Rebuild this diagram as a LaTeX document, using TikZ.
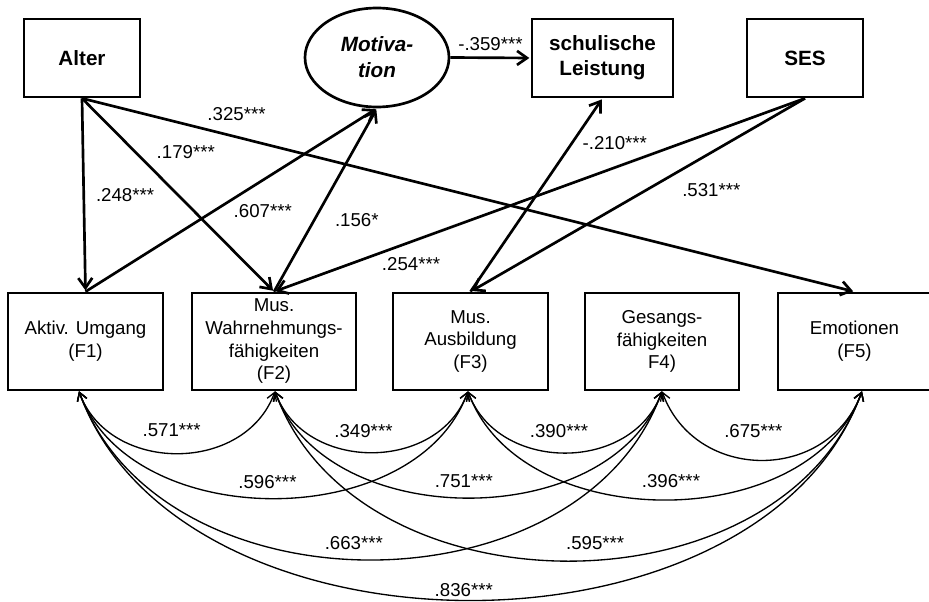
\documentclass[tikz,border=0pt]{standalone}
\usepackage{fontspec}
\setmainfont{Liberation Sans}
\usetikzlibrary{shapes.geometric,arrows.meta}

\begin{document}
\begin{tikzpicture}[x=0.75pt, y=-0.75pt, line width=2pt, >={Straight Barb[length=7.5pt,width=10.5pt]}]
    \tikzstyle{box}=[draw, rectangle, inner sep=0pt, align=center, font=\fontsize{14}{17}\selectfont]
    \tikzstyle{head}=[box, minimum height=58.5pt, font=\bfseries\fontsize{15.5}{18.75}\selectfont]
    \tikzstyle{factor}=[box, minimum height=72.75pt]
    \tikzstyle{latent}=[draw, ellipse, inner sep=0pt, minimum width=108pt, minimum height=74.25pt, align=center, font=\bfseries\itshape\fontsize{15.5}{19.5}\selectfont]
    \tikzstyle{effect}=[->, shorten >=1pt]
    \tikzstyle{corr}=[<->, line width=1pt, >={Straight Barb[length=6pt,width=7.5pt]}]
    \tikzstyle{coef}=[inner sep=1pt, font=\fontsize{14}{17}\selectfont]

    \useasboundingbox (0,0) rectangle (929,602);

    \node[head, minimum width=87pt] (alter) at (82,58) {Alter};
    \node[latent] (motiv) at (377,57.5) {Motiva-\\tion};
    \node[head, minimum width=105.75pt] (schul) at (602.5,58) {schulische\\Leistung};
    \node[head, minimum width=87pt] (ses) at (805,58) {SES};

    \foreach \name/\x/\w/\txt in {1/85.5/116.25/{Aktiv. Umgang\\(F1)},
                                 2/274/123/{Mus.\\Wahrnehmungs-\\fähigkeiten\\(F2)},
                                 3/470.5/116.25/{Mus.\\Ausbildung\\(F3)},
                                 4/662/115.5/{Gesangs-\\fähigkeiten\\F4)},
                                 5/854.5/114.75/{Emotionen\\(F5)}}
        \node[factor, minimum width=\w pt] (F-\name) at (\x,341.5) {\txt};

    \foreach \name/\off in {1/-4.9, 2/0.75, 3/-1.9, 4/0, 5/5.6}
        \coordinate (b-\name) at ([xshift=\off pt]F-\name.south);

    \draw[effect] (alter.south) -- node[coef, pos=.5, xshift=31pt] {.248***} (F-1.north);
    \draw[effect] (alter.south) -- node[coef, pos=.28, xshift=37.5pt] {.179***} (F-2.north);
    \draw[effect] (alter.south) -- node[coef, pos=.2, yshift=17pt] {.325***} (F-5.north);
    \draw[effect] (F-1.north) -- node[coef, pos=.44, xshift=36.75pt] {.607***} (motiv.south);
    \draw[effect] (F-2.north) -- node[coef, pos=.39, xshift=32pt] {.156*} (motiv.south);
    \draw[effect] (ses.south) -- node[coef, pos=.742, yshift=-17pt] {.254***} (F-2.north);
    \draw[effect] (ses.south) -- node[coef, pos=.28, yshift=-28pt] {.531***} (F-3.north);
    \draw[effect] (F-3.north) -- node[coef, pos=.77, xshift=32pt] {-.210***} (schul.south);
    \draw[effect] (motiv.east) -- node[coef, midway, yshift=10.5pt] {-.359***} (schul.west);

    \foreach \a/\b/\val/\loose/\dx/\dy in {1/2/.571/1.15/-4/17, 2/3/.349/1.15/-6/16,
                                          3/4/.390/1.15/-4.5/16.5, 4/5/.675/1.25/-6.5/22,
                                          1/3/.596/1/-4.5/12.5, 2/4/.751/1/-3.5/12.5,
                                          3/5/.396/1/4.5/14, 1/4/.663/1.05/-12.5/12.5,
                                          2/5/.595/1.05/20/13, 1/5/.836/.97/-5/7.5}
        \draw[corr] (b-\a) to[out=-70, in=-110, looseness=\loose]
            node[coef, xshift=\dx pt, yshift=\dy pt] {\val***} (b-\b);
\end{tikzpicture}
\end{document}
